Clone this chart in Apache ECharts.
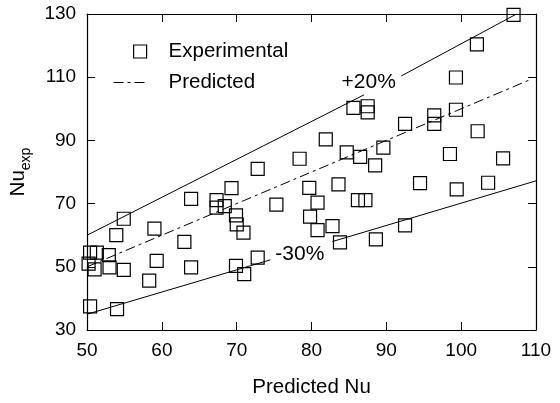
<!DOCTYPE html>
<html>
<head>
<meta charset="utf-8">
<script src="https://cdn.jsdelivr.net/npm/echarts@6/dist/echarts.min.js"></script>
<style>
  html, body { margin: 0; padding: 0; background: #fff; }
  #chart { width: 560px; height: 403px; }
</style>
</head>
<body>
<div id="chart"></div>
<script>
// experimental points (Predicted Nu, Nu_exp)
const predictedNu = [
  50.4, 51.3, 50.2, 51.0, 52.9, 53.0, 54.9, 50.4, 54.0, 54.9,
  53.9, 59.0, 59.3, 58.3, 63.0, 63.9, 63.9, 67.3, 67.3, 68.4,
  69.3, 69.9, 70.0, 70.9, 69.9, 71.0, 72.8, 72.8, 75.3, 78.4,
  79.7, 79.8, 80.8, 80.8, 81.9, 82.8, 83.6, 83.8, 84.7, 85.6,
  86.2, 87.2, 86.5, 87.5, 87.5, 88.5, 88.6, 89.6, 92.5, 92.5,
  94.5, 96.4, 96.4, 98.5, 99.3, 99.3, 99.4, 102.1, 102.2, 103.6,
  105.6, 107.0
]
const experimentalNu = [
  54.5, 54.5, 51.0, 49.2, 53.7, 49.8, 49.0, 37.5, 36.6, 65.2,
  60.0, 62.1, 51.9, 45.6, 57.9, 49.8, 71.5, 71.1, 68.7, 69.2,
  74.9, 66.3, 63.4, 60.8, 50.3, 47.7, 52.9, 81.0, 69.7, 84.2,
  75.0, 65.9, 70.3, 61.6, 90.3, 62.9, 76.1, 57.7, 86.2, 100.3,
  71.1, 71.1, 84.8, 100.8, 98.9, 82.1, 58.7, 87.7, 95.2, 63.1,
  76.5, 97.9, 95.2, 85.7, 99.7, 109.9, 74.5, 120.4, 92.9, 76.6,
  84.3, 129.7
]

// reference lines (gaps where the labels sit)
const predictedLine = [[50, 50], [109, 109]]
const upperLineA = [[50, 60], [87, 104.4]]
const upperLineB = [[92, 110.4], [107.4, 130]]
const lowerLineA = [[50, 35], [74.5, 52.2]]
const lowerLineB = [[82.8, 58], [110, 77.2]]

// band labels
const bandLabels = [[87.7, 108.4, '+20%'], [78.5, 53.7, '-30%']]

const xTicks = { min: 50, max: 110, interval: 10 }
const yTicks = { min: 30, max: 130, interval: 20 }

const FONT = 'Liberation Sans'
const dashDot = [10, 4, 3, 4]

const chart = echarts.init(document.getElementById('chart'))

const plainLine = (data) => ({
  type: 'line',
  data: data,
  symbol: 'none',
  silent: true,
  lineStyle: { color: '#000', width: 1 },
  z: 2
})

const boxAxis = (show) => ({
  axisLine: { show: true, lineStyle: { color: '#000', width: 1.2 } },
  axisTick: { show: true, inside: true, length: 8, lineStyle: { color: '#000', width: 1 } },
  splitLine: { show: false },
  axisLabel: {
    show: show,
    margin: 11,
    color: '#000',
    fontFamily: FONT,
    fontSize: 19
  }
})

const option = {
  animation: false,
  backgroundColor: '#fff',
  grid: { left: 86, right: 24, top: 14, bottom: 72 },
  legend: [
    {
      data: [{
        name: 'Experimental',
        icon: 'rect',
        itemStyle: { color: 'rgba(0,0,0,0)', borderColor: '#000', borderWidth: 1.2, opacity: 1 }
      }],
      left: 128,
      top: 36,
      itemWidth: 13,
      itemHeight: 13,
      selectedMode: false,
      textStyle: { color: '#000', fontFamily: FONT, fontSize: 20.5, padding: [0, 0, 0, 17] }
    },
    {
      data: [{
        name: 'Predicted',
        itemStyle: { color: 'rgba(0,0,0,0)', borderWidth: 0 },
        lineStyle: { color: '#000', width: 1, type: dashDot }
      }],
      left: 108,
      top: 67,
      itemWidth: 34,
      itemHeight: 13,
      selectedMode: false,
      textStyle: { color: '#000', fontFamily: FONT, fontSize: 20.5, padding: [0, 0, 0, 16] }
    }
  ],
  xAxis: [
    Object.assign({
      type: 'value',
      position: 'bottom',
      min: xTicks.min,
      max: xTicks.max,
      interval: xTicks.interval,
      name: 'Predicted Nu',
      nameLocation: 'middle',
      nameGap: 47,
      nameTextStyle: { color: '#000', fontFamily: FONT, fontSize: 20.5 }
    }, boxAxis(true)),
    Object.assign({
      type: 'value',
      position: 'top',
      min: xTicks.min,
      max: xTicks.max,
      interval: xTicks.interval
    }, boxAxis(false))
  ],
  yAxis: [
    Object.assign({
      type: 'value',
      position: 'left',
      min: yTicks.min,
      max: yTicks.max,
      interval: yTicks.interval,
      name: '{a|Nu}{b|exp}',
      nameLocation: 'middle',
      nameRotate: 90,
      nameGap: 42,
      nameTextStyle: {
        color: '#000',
        fontFamily: FONT,
        rich: {
          a: { fontFamily: FONT, fontSize: 20.5, color: '#000', lineHeight: 30, verticalAlign: 'middle' },
          b: { fontFamily: FONT, fontSize: 14, color: '#000', lineHeight: 14, verticalAlign: 'bottom' }
        }
      }
    }, boxAxis(true)),
    Object.assign({
      type: 'value',
      position: 'right',
      min: yTicks.min,
      max: yTicks.max,
      interval: yTicks.interval
    }, boxAxis(false))
  ],
  series: [
    {
      name: 'Experimental',
      type: 'scatter',
      symbol: 'rect',
      symbolSize: 13,
      data: predictedNu.map((x, i) => [x, experimentalNu[i]]),
      itemStyle: { color: 'rgba(0,0,0,0)', borderColor: '#000', borderWidth: 1.2, opacity: 1 },
      z: 3
    },
    Object.assign(plainLine(predictedLine), {
      name: 'Predicted',
      lineStyle: { color: '#000', width: 1, type: dashDot }
    }),
    plainLine(upperLineA),
    plainLine(upperLineB),
    plainLine(lowerLineA),
    plainLine(lowerLineB),
    {
      type: 'scatter',
      data: bandLabels,
      symbolSize: 1,
      silent: true,
      itemStyle: { color: 'rgba(0,0,0,0)', opacity: 1 },
      label: {
        show: true,
        position: [0, 0],
        align: 'center',
        verticalAlign: 'middle',
        formatter: (p) => p.value[2],
        color: '#000',
        opacity: 1,
        textBorderWidth: 0,
        fontFamily: FONT,
        fontSize: 21
      },
      z: 4
    }
  ]
}

chart.setOption(option)
</script>
</body>
</html>
